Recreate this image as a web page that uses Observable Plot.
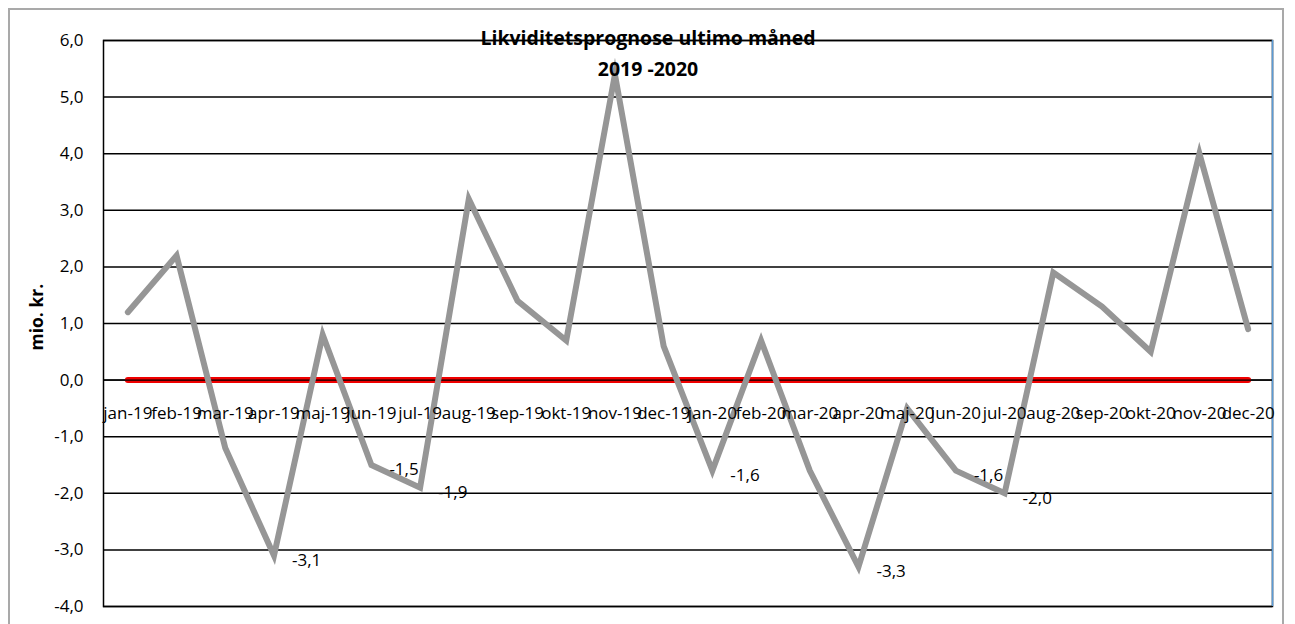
<!DOCTYPE html>
<html>
<head>
<meta charset="utf-8">
<script src="https://cdn.jsdelivr.net/npm/d3@7"></script>
<script src="https://cdn.jsdelivr.net/npm/@observablehq/plot@0.6"></script>
<style>
  html, body { margin: 0; padding: 0; background: #fff; overflow: hidden; }
  #wrap { position: relative; width: 1295px; height: 624px; }
  #border { position: absolute; left: 8px; top: 8px; width: 1276px; height: 640px; border: 2px solid #a9a9a9; box-sizing: border-box; }
  #chart { position: absolute; left: 0; top: 0; }
</style>
</head>
<body>
<div id="wrap"><div id="border"></div><div id="chart"></div></div>
<script>
const months = ["jan-19","feb-19","mar-19","apr-19","maj-19","jun-19","jul-19","aug-19","sep-19","okt-19","nov-19","dec-19",
                "jan-20","feb-20","mar-20","apr-20","maj-20","jun-20","jul-20","aug-20","sep-20","okt-20","nov-20","dec-20"];
const values = [1.2, 2.2, -1.2, -3.1, 0.8, -1.5, -1.9, 3.2, 1.4, 0.7, 5.4, 0.6,
                -1.6, 0.7, -1.6, -3.3, -0.5, -1.6, -2.0, 1.9, 1.3, 0.5, 4.0, 0.9];
const baseline = months.map(() => 0);
const labelled = [false, false, false, true, false, true, true, false, false, false, false, false,
                  true, false, false, true, false, true, true, false, false, false, false, false];
const yTicks = [-4, -3, -2, -1, 0, 1, 2, 3, 4, 5, 6];
const titleLines = ["Likviditetsprognose ultimo måned", "2019 -2020"];
const yLabel = "mio. kr.";

const fmt = d => d.toFixed(1).replace(".", ",");
const rows = months.map((m, i) => ({i, m, v: values[i], z: baseline[i], lab: labelled[i] ? fmt(values[i]) : null}));
const FONT = "'Open Sans', sans-serif";

const chart = Plot.plot({
  width: 1295,
  height: 624,
  marginLeft: 103,
  marginRight: 23,
  marginTop: 40,
  marginBottom: 18,
  style: {fontFamily: FONT, fontSize: "17px", background: "transparent", color: "#000"},
  x: {domain: [-0.5, months.length - 0.5], axis: null},
  y: {domain: [-4, 6], ticks: yTicks, tickFormat: fmt, tickSize: 0, tickPadding: 20, label: null},
  marks: [
    Plot.ruleY(yTicks, {stroke: "#000", strokeWidth: 1.5}),
    Plot.frame({stroke: "#000", strokeWidth: 1.5}),
    Plot.ruleX([months.length - 0.5], {stroke: "#5b9bd5", strokeWidth: 1.5}),
    Plot.line(rows, {x: "i", y: "z", stroke: "#f00000", strokeWidth: 6}),
    Plot.ruleY([0], {stroke: "#000", strokeWidth: 1.2}),
    Plot.line(rows, {x: "i", y: "v", stroke: "#969696", strokeWidth: 6, strokeLinejoin: "miter", strokeMiterlimit: 10}),
    Plot.text(rows, {x: "i", y: d => 0, text: "m", dy: 33, fontSize: 17, fill: "#000"}),
    Plot.text(rows.filter(d => d.lab), {x: "i", y: "v", text: "lab", dx: 18, dy: 5, textAnchor: "start", fontSize: 17, fill: "#000"}),
    Plot.text([titleLines[0]], {frameAnchor: "top", lineAnchor: "middle", text: d => d, dx: -40, dy: -2, fontWeight: "bold", fontSize: 19.5, fill: "#000"}),
    Plot.text([titleLines[1]], {frameAnchor: "top", lineAnchor: "middle", text: d => d, dx: -40, dy: 29, fontWeight: "bold", fontSize: 19.5, fill: "#000"}),
    Plot.text([yLabel], {frameAnchor: "left", text: d => d, rotate: -90, dx: -66, dy: 27, fontWeight: "bold", fontSize: 17.5, fill: "#000"})
  ]
});
document.getElementById("chart").appendChild(chart);
</script>
</body>
</html>
